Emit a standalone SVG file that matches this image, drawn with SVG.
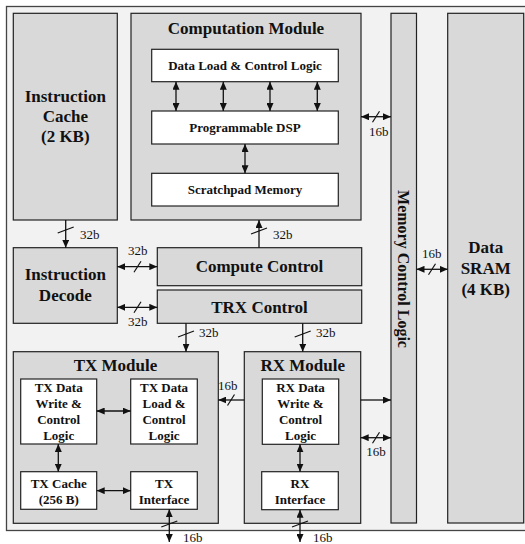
<svg xmlns="http://www.w3.org/2000/svg" width="525" height="544" viewBox="0 0 525 544">
<defs>
<marker id="ah" viewBox="0 0 8 7" markerWidth="8" markerHeight="7" refX="8" refY="3.5" orient="auto-start-reverse" markerUnits="userSpaceOnUse">
<path d="M0,0 L8,3.5 L0,7 z" fill="#111"/>
</marker>
<style>
.mod{fill:#d9d9d9;stroke:#222;stroke-width:1.2}
.box{fill:#ffffff;stroke:#222;stroke-width:1.2}
.t{font-weight:bold;fill:#111;text-anchor:middle}
.big{font-size:17px}
.mid{font-size:16px}
.sm{font-size:13px}
.lbl{font-size:13px;fill:#111}
.c{fill:none;stroke:#111;stroke-width:1.3}
.bi{marker-start:url(#ah);marker-end:url(#ah)}
.one{marker-end:url(#ah)}
.sl{fill:none;stroke:#111;stroke-width:1.2}
</style>
</defs>
<g font-family="Liberation Serif, Tinos, Times New Roman, DejaVu Serif, serif">
<rect x="6.5" y="6.5" width="530" height="524" fill="#f2f2f2" stroke="#444" stroke-width="1.3"/>

<g id="instruction-cache">
<rect class="mod" x="13.3" y="13.3" width="104" height="206.7"/>
<text class="t big" x="65.3" y="101.7">Instruction</text>
<text class="t big" x="65.3" y="121.7">Cache</text>
<text class="t big" x="65.3" y="141.7">(2 KB)</text>
</g>

<g id="computation-module">
<rect class="mod" x="131" y="13.3" width="230" height="206.7"/>
<text class="t big" x="246" y="33.5">Computation Module</text>
</g>
<g id="data-load-control">
<rect class="box" x="151.7" y="49.3" width="186.6" height="32.4"/>
<text class="t sm" x="245" y="70">Data Load &amp; Control Logic</text>
</g>
<g id="programmable-dsp">
<rect class="box" x="151.7" y="111" width="186.6" height="33"/>
<text class="t sm" x="245" y="132">Programmable DSP</text>
</g>
<g id="scratchpad-memory">
<rect class="box" x="151.7" y="173.3" width="186.6" height="32.7"/>
<text class="t sm" x="245" y="194">Scratchpad Memory</text>
</g>

<g id="memory-control-logic">
<rect class="mod" x="391" y="13.3" width="25.5" height="509.7"/>
<text class="t mid" transform="translate(403.7,269) rotate(90)" x="0" y="5.5">Memory Control Logic</text>
</g>

<g id="data-sram">
<rect class="mod" x="447.7" y="13.3" width="76" height="509.7"/>
<text class="t big" x="485.7" y="253">Data</text>
<text class="t big" x="485.7" y="274">SRAM</text>
<text class="t big" x="485.7" y="295">(4 KB)</text>
</g>

<g id="instruction-decode">
<rect class="mod" x="13.3" y="247.7" width="104" height="75.6"/>
<text class="t big" x="65.3" y="280">Instruction</text>
<text class="t big" x="65.3" y="301">Decode</text>
</g>

<g id="compute-control">
<rect class="mod" x="157.3" y="247.7" width="204.4" height="38"/>
<text class="t big" x="259.5" y="272">Compute Control</text>
</g>

<g id="trx-control">
<rect class="mod" x="157.3" y="290" width="204.4" height="33.3"/>
<text class="t big" x="259.5" y="312.7">TRX Control</text>
</g>

<g id="tx-module">
<rect class="mod" x="13.3" y="351.7" width="205" height="171.6"/>
<text class="t big" x="115.5" y="371">TX Module</text>
</g>
<g id="tx-data-write">
<rect class="box" x="20.7" y="379" width="76" height="65"/>
<text class="t sm" x="58.7" y="392">TX Data</text>
<text class="t sm" x="58.7" y="408">Write &amp;</text>
<text class="t sm" x="58.7" y="424">Control</text>
<text class="t sm" x="58.7" y="440">Logic</text>
</g>
<g id="tx-data-load">
<rect class="box" x="130.7" y="379" width="66.6" height="65"/>
<text class="t sm" x="164" y="392">TX Data</text>
<text class="t sm" x="164" y="408">Load &amp;</text>
<text class="t sm" x="164" y="424">Control</text>
<text class="t sm" x="164" y="440">Logic</text>
</g>
<g id="tx-cache">
<rect class="box" x="20.7" y="471.7" width="76" height="37.6"/>
<text class="t sm" x="58.7" y="487.5">TX Cache</text>
<text class="t sm" x="58.7" y="503.5">(256 B)</text>
</g>
<g id="tx-interface">
<rect class="box" x="130.7" y="471.7" width="66.6" height="37.6"/>
<text class="t sm" x="164" y="487.5">TX</text>
<text class="t sm" x="164" y="503.5">Interface</text>
</g>

<g id="rx-module">
<rect class="mod" x="244.3" y="351.7" width="116.4" height="171.6"/>
<text class="t big" x="302.7" y="371">RX Module</text>
</g>
<g id="rx-data-write">
<rect class="box" x="262.3" y="379" width="76.4" height="65.3"/>
<text class="t sm" x="300.5" y="392">RX Data</text>
<text class="t sm" x="300.5" y="408">Write &amp;</text>
<text class="t sm" x="300.5" y="424">Control</text>
<text class="t sm" x="300.5" y="440">Logic</text>
</g>
<g id="rx-interface">
<rect class="box" x="261.7" y="471.7" width="76.6" height="38"/>
<text class="t sm" x="300" y="487.5">RX</text>
<text class="t sm" x="300" y="503.5">Interface</text>
</g>

<g id="connectors">
<line class="c bi" x1="176" y1="81.7" x2="176" y2="111"/>
<line class="c bi" x1="223.3" y1="81.7" x2="223.3" y2="111"/>
<line class="c bi" x1="270" y1="81.7" x2="270" y2="111"/>
<line class="c bi" x1="317.3" y1="81.7" x2="317.3" y2="111"/>
<line class="c bi" x1="245" y1="144" x2="245" y2="173.3"/>

<line class="c bi" x1="361" y1="116.7" x2="391" y2="116.7"/>
<line class="sl" x1="372.5" y1="122.2" x2="379.5" y2="111.2"/>
<text class="lbl" x="378.7" y="136" text-anchor="middle">16b</text>

<line class="c one" x1="65.7" y1="220" x2="65.7" y2="247.7"/>
<line class="sl" x1="57.7" y1="233" x2="73.7" y2="227"/>
<text class="lbl" x="80" y="239">32b</text>

<line class="c one" x1="259" y1="247.7" x2="259" y2="220"/>
<line class="sl" x1="251" y1="234" x2="267" y2="228"/>
<text class="lbl" x="273" y="239">32b</text>

<line class="c bi" x1="117.3" y1="266.7" x2="157.3" y2="266.7"/>
<line class="sl" x1="134" y1="272.2" x2="141" y2="261.2"/>
<text class="lbl" x="137.7" y="255" text-anchor="middle">32b</text>

<line class="c bi" x1="117.3" y1="307.3" x2="157.3" y2="307.3"/>
<line class="sl" x1="134" y1="312.8" x2="141" y2="301.8"/>
<text class="lbl" x="137.7" y="326" text-anchor="middle">32b</text>

<line class="c one" x1="186" y1="323.3" x2="186" y2="351.7"/>
<line class="sl" x1="178" y1="337" x2="194" y2="331"/>
<text class="lbl" x="199" y="337">32b</text>

<line class="c one" x1="302.7" y1="323.3" x2="302.7" y2="351.7"/>
<line class="sl" x1="294.7" y1="337" x2="310.7" y2="331"/>
<text class="lbl" x="316" y="337">32b</text>

<line class="c one" x1="244.3" y1="400" x2="218.3" y2="400"/>
<line class="sl" x1="227.5" y1="405.5" x2="234.5" y2="394.5"/>
<text class="lbl" x="227.7" y="390" text-anchor="middle">16b</text>

<line class="c bi" x1="96.7" y1="411" x2="130.7" y2="411"/>
<line class="c bi" x1="58.3" y1="444" x2="58.3" y2="471.7"/>
<line class="c bi" x1="96.7" y1="490.7" x2="130.7" y2="490.7"/>
<line class="c bi" x1="300" y1="444.3" x2="300" y2="471.7"/>

<line class="c one" x1="360.7" y1="400" x2="391" y2="400"/>

<line class="c bi" x1="360.7" y1="437.7" x2="391" y2="437.7"/>
<line class="sl" x1="372.5" y1="443.2" x2="379.5" y2="432.2"/>
<text class="lbl" x="376" y="456" text-anchor="middle">16b</text>

<line class="c bi" x1="416.5" y1="269.3" x2="447.7" y2="269.3"/>
<line class="sl" x1="428.5" y1="274.8" x2="435.5" y2="263.8"/>
<text class="lbl" x="431.7" y="258" text-anchor="middle">16b</text>

<line class="c bi" x1="169.3" y1="509.3" x2="169.3" y2="542"/>
<line class="sl" x1="161.3" y1="527" x2="177.3" y2="521"/>
<text class="lbl" x="183" y="542">16b</text>

<line class="c bi" x1="300" y1="509.7" x2="300" y2="542"/>
<line class="sl" x1="292" y1="527" x2="308" y2="521"/>
<text class="lbl" x="313" y="542">16b</text>
</g>
</g>
</svg>
